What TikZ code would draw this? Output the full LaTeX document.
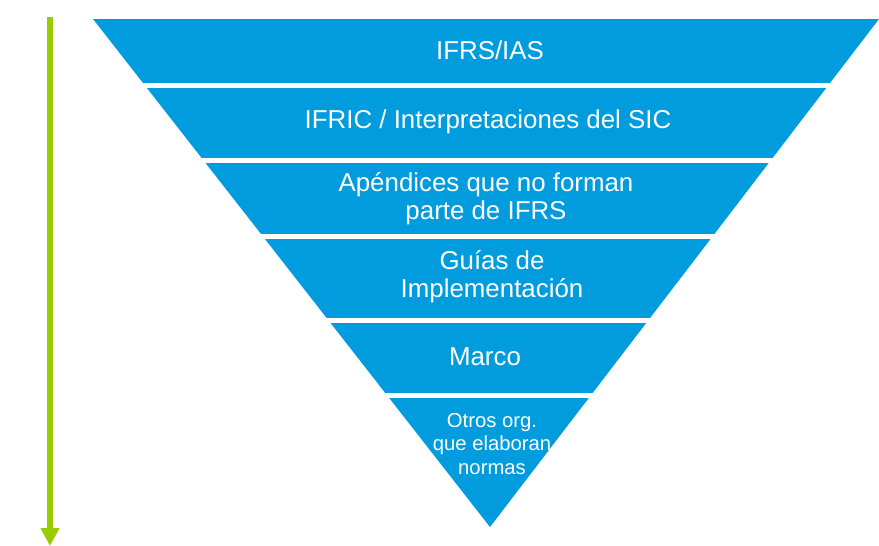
\documentclass[tikz,border=0pt]{standalone}
\usepackage{fontspec}
\setmainfont{Liberation Sans}
\usepackage{tikz}
\usetikzlibrary{arrows.meta}
\usepackage{xcolor}
\definecolor{ifrsblue}{HTML}{009CDE}
\definecolor{limegreen}{HTML}{99CC00}
\tikzset{
  band/.style={fill=ifrsblue},
  gap/.style={draw=white,line width=3.75pt},
  level/.style={text=white,align=center,inner sep=0pt,
    font=\fontsize{19.4}{21}\selectfont},
  smalllevel/.style={text=white,align=center,inner sep=0pt,
    font=\fontsize{15.2}{17.6}\selectfont},
  order/.style={-{Triangle[width=13.5pt,length=13.5pt]},draw=limegreen,line width=4.5pt}
}

\begin{document}
\begin{tikzpicture}[x=0.75pt,y=-0.75pt]
      \useasboundingbox (0,0) rectangle (879,546);
      % inverted pyramid
      \fill[band] (93,19) -- (879,19) -- (490,527) -- cycle;
      \foreach \y in {85,160.5,236,320.5,395.5}
        \draw[gap] (80,\y) -- (879,\y);
      \node[level] (ifrs) at (490,50) {IFRS/IAS};
      \node[level] (ifric) at (488,122) {IFRIC / Interpretaciones del SIC};
      \node[level] (apend) at (486,199) {Apéndices que no forman\\parte de IFRS};
      \node[level] (guias) at (492,277) {Guías de\\Implementación};
      \node[level] (marco) at (485,357) {Marco};
      \node[smalllevel] (otros) at (492,444) {Otros org.\\que elaboran\\normas};
      % hierarchy arrow
      \coordinate (start) at (50,17);
      \coordinate (end) at (50,546);
      \draw[order] (start) -- (end);
    \end{tikzpicture}
\end{document}
